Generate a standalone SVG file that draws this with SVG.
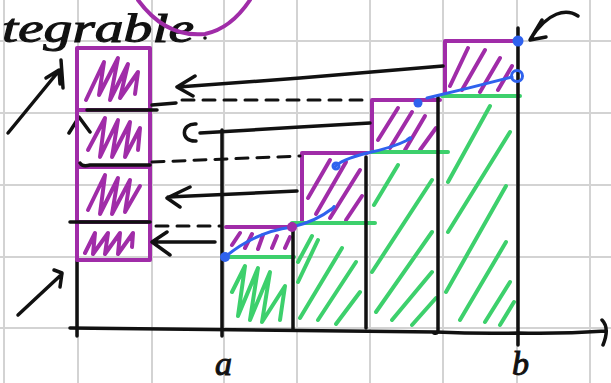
<svg xmlns="http://www.w3.org/2000/svg" width="611" height="383" viewBox="0 0 611 383">
<style>
.grid{stroke:#d3d3d3;stroke-width:2;fill:none}
.k{stroke:#111;stroke-width:3.5;fill:none;stroke-linecap:round;stroke-linejoin:round}
.kd{stroke:#111;stroke-width:3;fill:none;stroke-linecap:round;stroke-dasharray:12 9}
.p{stroke:#a02ca8;stroke-width:4;fill:none;stroke-linecap:round;stroke-linejoin:round}
.ph{stroke:#a02ca8;stroke-width:4;fill:none;stroke-linecap:round;stroke-linejoin:round}
.g{stroke:#3dd06c;stroke-width:4;fill:none;stroke-linecap:round;stroke-linejoin:round}
.b{stroke:#2f62ee;stroke-width:3;fill:none;stroke-linecap:round}
.hand{font-family:"Liberation Serif",serif;font-style:italic;fill:#111;stroke:#111;stroke-width:1}
</style>
<rect width="611" height="383" fill="#fff"/>
<g id="grid" class="grid">
<path d="M4,0V383M78,0V383M152,0V383M224,0V383M297,0V383M370,0V383M443,0V383M517,0V383M590,0V383"/>
<path d="M0,41H611M0,113H611M0,185H611M0,257H611M0,328H611"/>
</g>
<g id="title">
<text class="hand" x="2" y="42" font-size="40" textLength="192" lengthAdjust="spacingAndGlyphs">tegrable</text>
<circle cx="205" cy="38" r="1.8" fill="#111"/>
<path class="p" d="M138,0 C160,30 185,36 205,34 C225,30 240,15 250,0" stroke-width="3"/>
</g>
<g id="hatch-green">
<path class="g" d="M232,292 L245,266 L238,316 L258,268 L250,320 L270,272 L262,322 L285,286 L280,320"/>
<path class="g" d="M298,282 L318,240 M300,318 L342,248 M318,320 L356,262 M336,324 L360,292 M298,262 L312,236"/>
<path class="g" d="M374,205 L398,165 M372,272 L432,180 M376,312 L432,232 M392,320 L432,272 M412,325 L436,298"/>
<path class="g" d="M448,182 L490,106 M448,232 L510,132 M446,292 L506,186 M460,320 L506,242 M485,322 L510,282 M500,325 L514,302"/>
</g>
<g id="hatch-purple">
<path class="ph" d="M86,100 L104,62 L99,95 L118,58 L110,100 L128,64 L120,98 L138,72 L135,94"/>
<path class="ph" d="M88,150 L105,118 L100,157 L118,120 L112,157 L130,122 L125,157 L140,128 L138,150"/>
<path class="ph" d="M88,210 L105,175 L100,214 L118,178 L112,214 L130,180 L125,212 L140,186"/>
<path class="ph" d="M85,253 L95,233 L93,254 L108,233 L105,254 L120,233 L118,254 L133,233 L132,247"/>
<path class="ph" d="M232,245 L240,233 M245,248 L252,234 M258,249 L263,235 M272,248 L277,236 M285,248 L290,237"/>
<path class="ph" d="M308,198 L330,160 M316,214 L346,162 M330,218 L360,170 M346,220 L362,196"/>
<path class="ph" d="M378,140 L398,108 M390,148 L412,112 M405,150 L425,116 M420,150 L436,128"/>
<path class="ph" d="M450,86 L468,48 M462,90 L485,50 M480,92 L500,58 M498,90 L512,66"/>
</g>
<g id="column">
<path class="k" d="M77,336 V118 M69,133 L79,117 L90,132"/>
<path class="p" d="M77,48 H150 V260 H77 Z M77,110 H150 M77,167 H150 M77,222 H150"/>
</g>
<g id="bars">
<path class="p" d="M226,227 H292 M302,223 V153 H367 M372,152 V100 H440 M445,96 V41 H518"/>
<path class="g" d="M228,257 H294 M292,223 H375 M372,152 H448 M442,96 H520"/>
<path class="k" d="M222,130 V336 M293,230 V330 M366,157 V328 M438,97 V330 Q438,334 434,333 M518,28 V345"/>
</g>
<g id="axis">
<path class="k" d="M70,328 Q300,330 436,332 Q480,334 518,333 Q560,334 606,331 M602,320 Q610,328 603,345"/>
</g>
<g id="connectors">
<path class="k" d="M443,66 L300,78 L178,87 M195,76 L177,87 L193,96"/>
<path class="k" d="M196,124 C181,123 180,142 196,141 M200,133 L300,127 L370,123"/>
<path class="k" d="M297,191 L168,197 M190,187 L167,198 L180,207"/>
<path class="k" d="M215,242 L153,242 M167,232 L152,242 L170,255"/>
<path class="k" d="M87,110 H157 M80,163 Q82,167 90,165 H150 M70,222 H150"/>
<path class="k" d="M152,105 L176,103"/>
<path class="kd" d="M182,100 L370,100"/>
<path class="kd" d="M152,162 L300,156"/>
<path class="kd" d="M156,226 L220,226"/>
<path class="k" d="M8,133 L58,72 M46,78 L59,70 L60,84 M61,60 L63,88"/>
<path class="k" d="M18,315 L62,274 M54,270 L62,273 L60,287"/>
<path class="k" d="M578,16 C566,8 548,12 531,38 M542,20 L530,40 L546,37"/>
</g>
<g id="curve">
<path class="b" d="M225,257 Q255,232 292,227 Q315,222 333,208 Q336,204 331,210"/>
<path class="b" d="M335,167 Q340,160 367,153 Q392,148 410,139 Q412,136 407,140"/>
<circle cx="336" cy="166" r="3" class="b"/>
<path class="b" d="M427,98 Q470,88 512,77"/>
<circle cx="225" cy="257" r="5" fill="#2f62ee"/>
<circle cx="292" cy="227" r="5" fill="#a02ca8"/>
<circle cx="418" cy="103" r="4.5" fill="#2f62ee"/>
<circle cx="518" cy="41" r="5.5" fill="#2f62ee"/>
<circle cx="517" cy="76" r="5.5" class="b"/>
</g>
<g id="labels">
<text class="hand" x="215" y="375" font-size="34">a</text>
<text class="hand" x="512" y="375" font-size="34">b</text>
</g>
</svg>
